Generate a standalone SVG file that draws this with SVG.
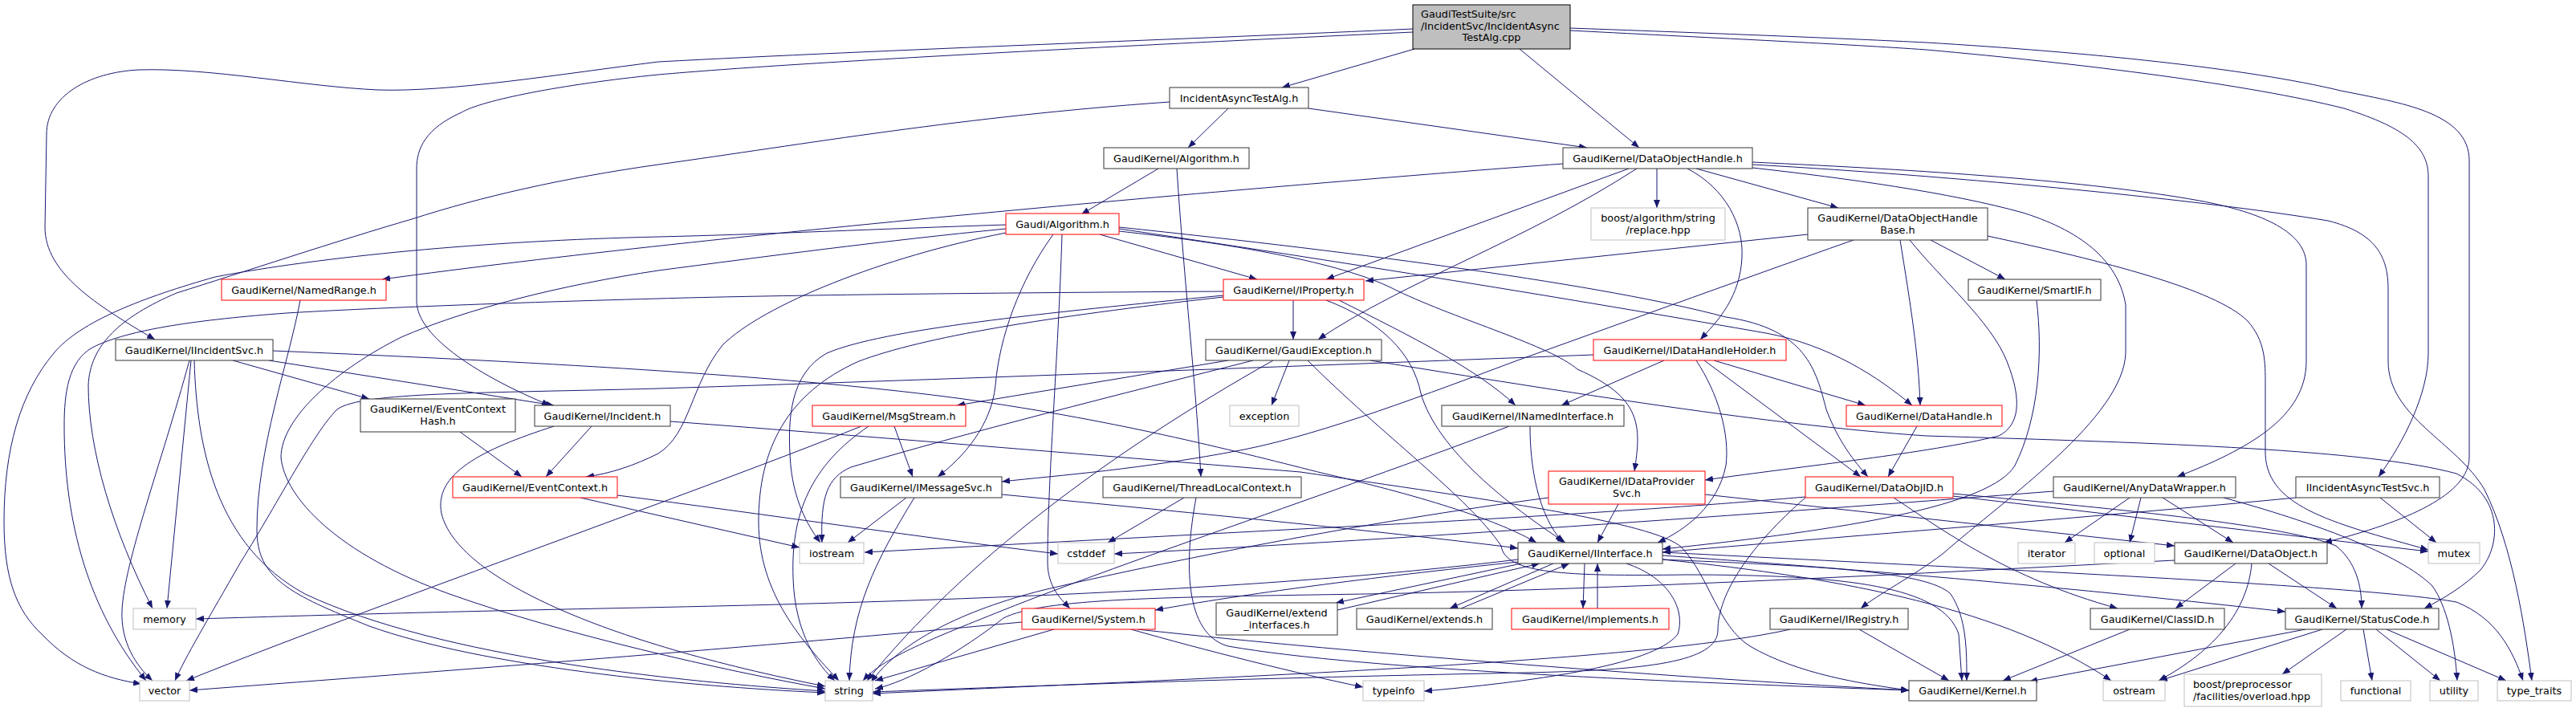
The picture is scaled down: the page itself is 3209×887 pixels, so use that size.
<svg xmlns="http://www.w3.org/2000/svg" width="3209" height="887" viewBox="0 0 3209 887">
<defs>
<marker id="ah" viewBox="0 0 10 8" refX="10" refY="4" markerWidth="10" markerHeight="8" markerUnits="userSpaceOnUse" orient="auto"><path d="M0,0L10,4L0,8z" fill="#191970"/></marker>
</defs>
<style>
#edges path{fill:none;stroke:#191970;stroke-width:1;marker-end:url(#ah)}
.n rect{fill:#fff;stroke:#333;stroke-width:1}
.r rect{stroke:#ff0000}
.g rect{stroke:#bfbfbf}
.top rect{fill:#bfbfbf;stroke:#000}
text{font-family:"DejaVu Sans",sans-serif;font-size:12.8px;fill:#000;text-anchor:middle}
.l{text-anchor:start}
</style>
<rect width="3209" height="887" fill="#fff"/>
<g id="edges">
<path d="M1762,61 L1597,109"/>
<path d="M1893,61 L2042,184"/>
<path d="M1760,36 C1500,48 1100,62 820,77 C700,92 560,115 471,112 C380,108 260,84 173,87 C110,90 58,120 58,167 L56,283 C56,340 120,380 193,423"/>
<path d="M1760,40 C1400,57 1000,77 820,93 C700,105 600,125 575,140 C530,160 519,185 519,210 L519,375 C519,420 600,470 685,505"/>
<path d="M1956,38 C2150,48 2300,55 2400,62 C2600,80 2800,105 2920,135 C3000,160 3025,185 3025,220 L3025,440 C3025,490 2995,550 2963,594"/>
<path d="M1956,35 C2150,42 2300,48 2400,53 C2600,65 2800,85 2916,113 C2990,128 3076,140 3076,200 L3076,570 C3076,615 3000,650 2895,676"/>
<path d="M1530,135 L1480,184"/>
<path d="M1630,135 L1977,184"/>
<path d="M1457,127 C1200,145 1000,180 820,205 C700,222 600,245 513,273 C420,300 300,340 220,365 C150,395 112,430 110,480 C110,560 140,660 190,758"/>
<path d="M1443,210 L1347,267"/>
<path d="M1466,210 C1475,350 1490,480 1496,594"/>
<path d="M1947,204 C1600,230 900,290 476,348"/>
<path d="M2029,210 L1652,348"/>
<path d="M2039,210 C1900,300 1750,350 1642,423"/>
<path d="M2064,210 L2064,259"/>
<path d="M2102,210 C2150,235 2172,280 2170,320 C2168,370 2140,400 2118,423"/>
<path d="M2113,210 L2290,259"/>
<path d="M2183,202 C2400,212 2600,225 2740,250 C2820,265 2873,290 2873,330 L2873,450 C2873,520 2800,560 2712,594"/>
<path d="M2183,205 C2450,220 2750,250 2900,275 C2960,290 2975,320 2975,360 L2975,450 C2975,520 3060,550 3095,610 C3130,680 3145,780 3154,848"/>
<path d="M2183,209 C2300,222 2430,240 2520,265 C2600,290 2640,330 2648,380 L2648,440 C2645,520 2500,620 2420,690 C2380,720 2340,740 2318,758"/>
<path d="M1253,280 C1100,285 950,292 820,295 C600,300 400,320 268,345 C180,370 100,400 67,440 C25,490 5,560 5,650 C5,720 20,760 52,790 C90,830 130,845 176,852"/>
<path d="M1253,285 C1100,300 950,320 820,337 C700,355 580,385 500,420 C420,460 350,520 350,570 C355,620 420,690 560,740 C700,790 900,835 1028,858"/>
<path d="M1253,290 C1100,320 950,380 900,430 C860,480 860,540 820,565 C790,580 760,590 730,594"/>
<path d="M1312,292 C1270,350 1245,420 1240,480 C1235,530 1200,570 1168,594"/>
<path d="M1323,292 C1318,450 1305,600 1305,700 C1305,730 1320,745 1333,758"/>
<path d="M1370,292 L1566,348"/>
<path d="M1394,283 C1700,315 2000,355 2150,395 C2250,410 2262,460 2275,510 C2290,550 2310,575 2327,594"/>
<path d="M1394,285 C1700,330 2000,380 2200,415 C2280,430 2340,470 2382,505"/>
<path d="M1394,288 C1550,305 1680,330 1740,362 C1820,400 1930,430 1965,460 C2045,495 2045,530 2036,587"/>
<path d="M2252,292 L1701,350"/>
<path d="M2309,299 C2150,355 2000,410 1893,448 C1780,490 1650,540 1550,560 C1420,585 1320,592 1248,600"/>
<path d="M2367,299 C2380,380 2390,440 2392,505"/>
<path d="M2405,299 L2498,348"/>
<path d="M2476,294 C2620,325 2760,360 2800,400 C2822,425 2822,450 2822,480 L2822,560 C2820,630 2900,650 3025,685"/>
<path d="M2379,299 C2420,350 2480,400 2500,450 C2520,500 2515,530 2490,543 C2400,565 2250,580 2124,598"/>
<path d="M374,374 C360,450 320,560 320,660 C320,720 360,740 460,780 C600,830 850,855 1028,863"/>
<path d="M1611,374 L1611,423"/>
<path d="M1668,374 C1760,420 1840,460 1888,505"/>
<path d="M1652,374 C1720,400 1760,440 1770,490 C1790,560 1880,630 1950,676"/>
<path d="M1524,368 C1300,390 1100,410 1030,440 C985,465 980,520 985,580 C990,630 1010,660 1022,676"/>
<path d="M1524,370 C1300,395 1150,420 1070,450 C980,490 945,560 945,650 C945,740 1000,800 1045,848"/>
<path d="M1524,363 C1200,365 950,368 820,372 C600,378 440,385 357,390 C250,398 160,410 115,433 C85,450 80,490 80,530 C80,650 110,760 182,848"/>
<path d="M2537,374 C2545,440 2540,520 2510,580 C2480,630 2300,660 2071,684"/>
<path d="M290,449 L460,497"/>
<path d="M335,449 L690,505"/>
<path d="M340,437 C700,452 1000,470 1200,497 C1400,525 1550,565 1650,590 C1780,620 1870,650 1914,676"/>
<path d="M238,449 L208,758"/>
<path d="M236,449 C200,580 155,700 152,760 C150,800 170,830 190,848"/>
<path d="M242,449 C245,560 270,680 380,740 C550,820 850,850 1028,861"/>
<path d="M1530,449 L1192,505"/>
<path d="M1606,449 L1584,505"/>
<path d="M1561,449 C1400,490 1200,540 1060,582 C1030,595 1022,620 1024,676"/>
<path d="M1586,449 C1380,565 1200,700 1080,848"/>
<path d="M1629,449 C1720,540 1830,620 1870,680 C1875,715 1950,718 2100,716 C2300,716 2420,730 2440,790 L2444,848"/>
<path d="M1707,449 C1900,480 2200,530 2400,543 C2700,552 2950,560 3060,590 C3120,620 3115,680 3090,710 C3070,730 3045,745 3020,758"/>
<path d="M1985,442 C1700,453 1200,472 820,484 C600,490 450,488 420,510 C390,540 350,620 300,700 C260,770 230,820 218,848"/>
<path d="M2073,449 L1945,505"/>
<path d="M2135,449 L2324,505"/>
<path d="M2123,449 L2318,594"/>
<path d="M2113,449 C2140,490 2155,540 2150,580 C2140,630 2100,660 2065,676"/>
<path d="M573,538 L650,594"/>
<path d="M737,531 L680,594"/>
<path d="M690,531 C600,560 540,590 550,640 C570,720 750,800 1028,855"/>
<path d="M835,525 C1100,545 1400,570 1620,588 C1850,622 2060,650 2095,682 C2130,720 2140,780 2180,805 C2240,840 2320,852 2378,860"/>
<path d="M1114,531 L1137,594"/>
<path d="M1073,531 C850,620 450,760 232,848"/>
<path d="M1082,531 C1010,580 985,640 988,720 C990,790 1020,830 1040,848"/>
<path d="M1906,531 C1906,580 1915,640 1947,676"/>
<path d="M1880,531 C1700,600 1400,700 1250,760 C1150,800 1100,820 1075,848"/>
<path d="M2388,531 L2352,594"/>
<path d="M723,620 L996,682"/>
<path d="M769,617 C950,640 1150,670 1318,690"/>
<path d="M1129,620 L1056,676"/>
<path d="M1139,620 C1090,700 1060,760 1058,848"/>
<path d="M1248,616 C1500,640 1750,665 1891,683"/>
<path d="M1475,620 L1380,676"/>
<path d="M1490,620 C1475,700 1475,790 1530,805 C1700,835 2100,850 2378,860"/>
<path d="M2016,628 L1990,676"/>
<path d="M2124,616 L2709,680"/>
<path d="M1929,620 C1700,650 1450,700 1300,735 C1200,760 1120,800 1085,850"/>
<path d="M2359,620 C2420,660 2500,720 2638,758"/>
<path d="M2433,618 L3025,687"/>
<path d="M2433,615 C2650,635 2850,655 2910,680 C2935,700 2942,730 2942,758"/>
<path d="M2249,619 C2100,632 1900,645 1620,659 L1077,688"/>
<path d="M2249,620 C2180,680 2140,740 2140,785 C2140,825 2050,835 1900,838 C1500,846 1250,856 1087,862"/>
<path d="M2653,620 L2572,676"/>
<path d="M2667,620 L2653,676"/>
<path d="M2694,620 L2782,676"/>
<path d="M2770,620 C2880,650 2990,690 3030,730 C3048,755 3058,800 3061,848"/>
<path d="M2558,612 C2200,640 1700,675 1388,690"/>
<path d="M2965,620 L3035,676"/>
<path d="M2860,620 C2600,645 2300,668 2071,688"/>
<path d="M1895,702 L1664,751"/>
<path d="M1666,760 L1918,702"/>
<path d="M1935,702 L1806,758"/>
<path d="M1820,758 L1955,702"/>
<path d="M1974,702 L1972,758"/>
<path d="M1990,758 L1990,702"/>
<path d="M1891,697 C1700,720 1400,745 800,757 C500,763 350,768 244,771"/>
<path d="M1891,700 C1700,720 1550,740 1439,760"/>
<path d="M2026,702 C2080,720 2100,760 2090,790 C2060,830 1900,850 1774,861"/>
<path d="M2071,697 C2250,705 2400,710 2430,740 C2450,770 2450,810 2450,848"/>
<path d="M2071,692 C2400,715 2650,740 2847,762"/>
<path d="M2071,697 C2300,720 2500,760 2630,848"/>
<path d="M2071,688 C2500,710 2950,730 3060,750 C3110,770 3130,810 3143,848"/>
<path d="M2785,702 L2710,758"/>
<path d="M2826,702 L2911,758"/>
<path d="M2805,702 C2800,760 2760,810 2689,848"/>
<path d="M2709,698 C2400,714 2000,735 1700,740 C1450,744 1300,745 1250,770 C1200,810 1130,850 1090,858"/>
<path d="M1273,775 C900,810 500,840 236,860"/>
<path d="M1313,784 L1090,848"/>
<path d="M1409,784 C1500,810 1620,840 1698,856"/>
<path d="M1417,784 C1700,815 2100,845 2378,860"/>
<path d="M2230,784 C2050,825 1500,845 1087,864"/>
<path d="M2316,784 L2428,848"/>
<path d="M2653,784 L2495,848"/>
<path d="M2872,784 L2528,849"/>
<path d="M2893,784 L2690,848"/>
<path d="M2923,784 L2843,840"/>
<path d="M2944,784 L2955,848"/>
<path d="M2960,784 L3040,848"/>
<path d="M2973,784 L3122,848"/>
</g>
<g id="node-IncidentAsyncTestAlg-cpp" class="n top"><rect x="1760" y="6" width="196" height="55"/><text class="l" x="1770" y="21.5">GaudiTestSuite/src</text><text class="l" x="1770" y="36.5">/IncidentSvc/IncidentAsync</text><text x="1858" y="51">TestAlg.cpp</text></g>
<g id="node-IncidentAsyncTestAlg-h" class="n"><rect x="1457" y="109" width="173" height="26"/><text x="1543.5" y="126.5">IncidentAsyncTestAlg.h</text></g>
<g id="node-GK-Algorithm" class="n"><rect x="1375" y="184" width="181" height="26"/><text x="1465.5" y="201.5">GaudiKernel/Algorithm.h</text></g>
<g id="node-DataObjectHandle" class="n"><rect x="1947" y="184" width="236" height="26"/><text x="2065" y="201.5">GaudiKernel/DataObjectHandle.h</text></g>
<g id="node-Gaudi-Algorithm" class="n r"><rect x="1253" y="266" width="141" height="26"/><text x="1323.5" y="283.5">Gaudi/Algorithm.h</text></g>
<g id="node-boost-replace" class="n g"><rect x="1982" y="259" width="167" height="40"/><text x="2065.5" y="275.5">boost/algorithm/string</text><text x="2065.5" y="290.5">/replace.hpp</text></g>
<g id="node-DataObjectHandleBase" class="n"><rect x="2252" y="259" width="224" height="40"/><text x="2364" y="275.5">GaudiKernel/DataObjectHandle</text><text x="2364" y="290.5">Base.h</text></g>
<g id="node-NamedRange" class="n r"><rect x="276" y="348" width="205" height="26"/><text x="378.5" y="365.5">GaudiKernel/NamedRange.h</text></g>
<g id="node-IProperty" class="n r"><rect x="1524" y="348" width="175" height="26"/><text x="1611.5" y="365.5">GaudiKernel/IProperty.h</text></g>
<g id="node-SmartIF" class="n"><rect x="2452" y="348" width="165" height="26"/><text x="2534.5" y="365.5">GaudiKernel/SmartIF.h</text></g>
<g id="node-IIncidentSvc" class="n"><rect x="144" y="423" width="196" height="26"/><text x="242" y="440.5">GaudiKernel/IIncidentSvc.h</text></g>
<g id="node-GaudiException" class="n"><rect x="1502" y="423" width="219" height="26"/><text x="1611.5" y="440.5">GaudiKernel/GaudiException.h</text></g>
<g id="node-IDataHandleHolder" class="n r"><rect x="1985" y="423" width="240" height="26"/><text x="2105" y="440.5">GaudiKernel/IDataHandleHolder.h</text></g>
<g id="node-EventContextHash" class="n"><rect x="449" y="497" width="193" height="41"/><text x="545.5" y="514">GaudiKernel/EventContext</text><text x="545.5" y="529">Hash.h</text></g>
<g id="node-Incident" class="n"><rect x="666" y="505" width="169" height="26"/><text x="750.5" y="522.5">GaudiKernel/Incident.h</text></g>
<g id="node-MsgStream" class="n r"><rect x="1012" y="505" width="191" height="26"/><text x="1107.5" y="522.5">GaudiKernel/MsgStream.h</text></g>
<g id="node-exception" class="n g"><rect x="1532" y="505" width="86" height="26"/><text x="1575" y="522.5">exception</text></g>
<g id="node-INamedInterface" class="n"><rect x="1796" y="505" width="227" height="26"/><text x="1909.5" y="522.5">GaudiKernel/INamedInterface.h</text></g>
<g id="node-DataHandle" class="n r"><rect x="2300" y="505" width="194" height="26"/><text x="2397" y="522.5">GaudiKernel/DataHandle.h</text></g>
<g id="node-EventContext" class="n r"><rect x="564" y="594" width="205" height="26"/><text x="666.5" y="611.5">GaudiKernel/EventContext.h</text></g>
<g id="node-IMessageSvc" class="n"><rect x="1047" y="594" width="201" height="26"/><text x="1147.5" y="611.5">GaudiKernel/IMessageSvc.h</text></g>
<g id="node-ThreadLocalContext" class="n"><rect x="1374" y="594" width="247" height="26"/><text x="1497.5" y="611.5">GaudiKernel/ThreadLocalContext.h</text></g>
<g id="node-IDataProviderSvc" class="n r"><rect x="1929" y="587" width="195" height="41"/><text x="2026.5" y="604">GaudiKernel/IDataProvider</text><text x="2026.5" y="619">Svc.h</text></g>
<g id="node-DataObjID" class="n r"><rect x="2249" y="594" width="184" height="26"/><text x="2341" y="611.5">GaudiKernel/DataObjID.h</text></g>
<g id="node-AnyDataWrapper" class="n"><rect x="2558" y="594" width="227" height="26"/><text x="2671.5" y="611.5">GaudiKernel/AnyDataWrapper.h</text></g>
<g id="node-IIncidentAsyncTestSvc" class="n"><rect x="2860" y="594" width="179" height="26"/><text x="2949.5" y="611.5">IIncidentAsyncTestSvc.h</text></g>
<g id="node-iostream" class="n g"><rect x="996" y="676" width="80" height="26"/><text x="1036" y="693.5">iostream</text></g>
<g id="node-cstddef" class="n g"><rect x="1318" y="676" width="70" height="26"/><text x="1353" y="693.5">cstddef</text></g>
<g id="node-IInterface" class="n"><rect x="1891" y="676" width="180" height="26"/><text x="1981" y="693.5">GaudiKernel/IInterface.h</text></g>
<g id="node-iterator" class="n g"><rect x="2514" y="676" width="71" height="26"/><text x="2549.5" y="693.5">iterator</text></g>
<g id="node-optional" class="n g"><rect x="2609" y="676" width="75" height="26"/><text x="2646.5" y="693.5">optional</text></g>
<g id="node-DataObject" class="n"><rect x="2709" y="676" width="190" height="26"/><text x="2804" y="693.5">GaudiKernel/DataObject.h</text></g>
<g id="node-mutex" class="n g"><rect x="3025" y="676" width="64" height="26"/><text x="3057" y="693.5">mutex</text></g>
<g id="node-memory" class="n g"><rect x="166" y="758" width="78" height="26"/><text x="205" y="775.5">memory</text></g>
<g id="node-System" class="n r"><rect x="1273" y="758" width="166" height="26"/><text x="1356" y="775.5">GaudiKernel/System.h</text></g>
<g id="node-extend_interfaces" class="n"><rect x="1515" y="751" width="151" height="40"/><text x="1590.5" y="767.5">GaudiKernel/extend</text><text x="1590.5" y="782.5">_interfaces.h</text></g>
<g id="node-extends" class="n"><rect x="1690" y="758" width="169" height="26"/><text x="1774.5" y="775.5">GaudiKernel/extends.h</text></g>
<g id="node-implements" class="n r"><rect x="1883" y="758" width="196" height="26"/><text x="1981" y="775.5">GaudiKernel/implements.h</text></g>
<g id="node-IRegistry" class="n"><rect x="2205" y="758" width="172" height="26"/><text x="2291" y="775.5">GaudiKernel/IRegistry.h</text></g>
<g id="node-ClassID" class="n"><rect x="2604" y="758" width="167" height="26"/><text x="2687.5" y="775.5">GaudiKernel/ClassID.h</text></g>
<g id="node-StatusCode" class="n"><rect x="2847" y="758" width="191" height="26"/><text x="2942.5" y="775.5">GaudiKernel/StatusCode.h</text></g>
<g id="node-vector" class="n g"><rect x="174" y="848" width="62" height="25"/><text x="205" y="865">vector</text></g>
<g id="node-string" class="n g"><rect x="1028" y="848" width="59" height="25"/><text x="1057.5" y="865">string</text></g>
<g id="node-typeinfo" class="n g"><rect x="1698" y="848" width="76" height="25"/><text x="1736" y="865">typeinfo</text></g>
<g id="node-Kernel" class="n"><rect x="2378" y="848" width="159" height="25"/><text x="2457.5" y="865">GaudiKernel/Kernel.h</text></g>
<g id="node-ostream" class="n g"><rect x="2620" y="848" width="77" height="25"/><text x="2658.5" y="865">ostream</text></g>
<g id="node-boost-overload" class="n g"><rect x="2721" y="840" width="171" height="40"/><text class="l" x="2732" y="856.5">boost/preprocessor</text><text class="l" x="2732" y="871.5">/facilities/overload.hpp</text></g>
<g id="node-functional" class="n g"><rect x="2916" y="848" width="87" height="25"/><text x="2959.5" y="865">functional</text></g>
<g id="node-utility" class="n g"><rect x="3027" y="848" width="60" height="25"/><text x="3057" y="865">utility</text></g>
<g id="node-type_traits" class="n g"><rect x="3111" y="848" width="92" height="25"/><text x="3157" y="865">type_traits</text></g>
</svg>
